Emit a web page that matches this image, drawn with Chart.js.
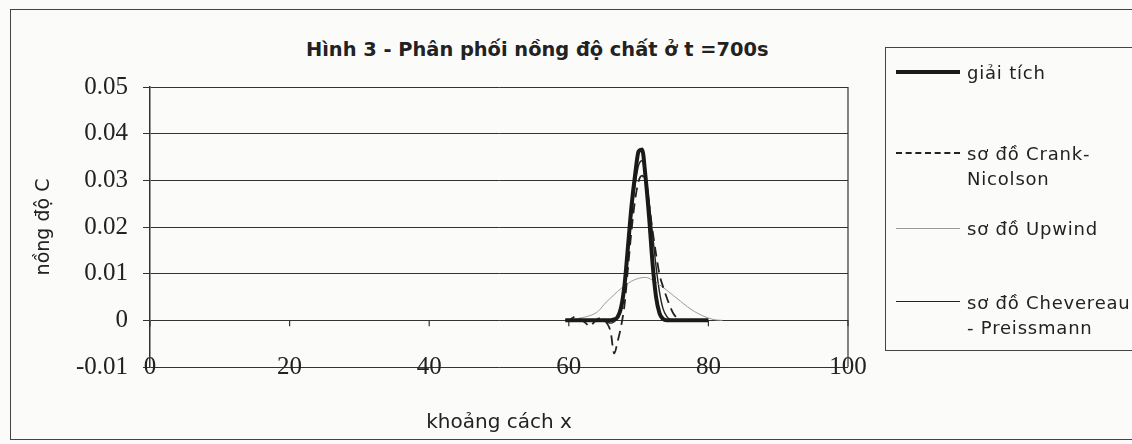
<!DOCTYPE html>
<html>
<head>
<meta charset="utf-8">
<script src="https://cdn.jsdelivr.net/npm/chart.js@4"></script>
<style>
  body { margin: 0; background: #fbfbfa; }
  #wrap { position: relative; width: 1132px; height: 444px; overflow: hidden; background: #fbfbfa; font-family: 'DejaVu Sans', sans-serif; color: #222; }
  #frame { position: absolute; left: 10px; top: 9px; width: 1150px; height: 429px; border: 1.5px solid #444; }
  #title { position: absolute; left: 306px; top: 38px; font-weight: bold; font-size: 19.4px; white-space: nowrap; }
  #legend { position: absolute; left: 885px; top: 47px; width: 300px; height: 302px; border: 1.2px solid #444; }
  .item { position: absolute; left: 10px; font-size: 18px; letter-spacing: 0.8px; white-space: nowrap; line-height: 25px; }
  .item .mark { position: absolute; left: 0; width: 64px; }
  .item .txt { position: absolute; left: 71px; top: 0; }
  canvas { position: absolute; left: 0; top: 0; }
</style>
</head>
<body>
<div id="wrap">
  <div id="frame"></div>
  <div id="title">Hình 3 - Phân phối nồng độ chất ở t =700s</div>
  <canvas id="chart" width="1132" height="444"></canvas>
  <div id="legend">
    <div class="item" style="top:12px"><div class="mark" style="top:10px;border-top:4px solid #1a1a1a"></div><div class="txt">giải tích</div></div>
    <div class="item" style="top:93px"><div class="mark" style="top:11px;border-top:2px dashed #222"></div><div class="txt">sơ đồ Crank-<br>Nicolson</div></div>
    <div class="item" style="top:168px"><div class="mark" style="top:12px;border-top:1px solid #999"></div><div class="txt">sơ đồ Upwind</div></div>
    <div class="item" style="top:242px"><div class="mark" style="top:11px;border-top:1.5px solid #222"></div><div class="txt">sơ đồ Chevereau<br>- Preissmann</div></div>
  </div>
</div>
<script>
// tick values on both axes
var xTicks = [0, 20, 40, 60, 80, 100];
var yTicks = [-0.01, 0, 0.01, 0.02, 0.03, 0.04, 0.05];

// giải tích (analytical)
var analyticX = [59.5, 66, 66.5, 67, 67.5, 68, 68.5, 69, 69.5, 70, 70.5, 71, 71.5, 72, 72.5, 73, 73.5, 74, 80];
var analyticY = [0, 0, 0.0002, 0.0007, 0.0028, 0.0078, 0.0162, 0.0247, 0.0312, 0.0362, 0.0366, 0.0306, 0.0222, 0.0122, 0.005, 0.0015, 0.0003, 0, 0];

// sơ đồ Crank-Nicolson
var cnX = [59.5, 60, 60.5, 61, 61.5, 62, 62.5, 63, 63.5, 64, 64.5, 65, 65.5, 66, 66.5, 67, 67.5, 68, 68.5, 69, 69.5, 70, 70.5, 71, 71.5, 72, 72.5, 73, 73.5, 74, 74.5, 75, 75.5, 76, 76.5, 80];
var cnY = [0, 0, 0.0005, 0.0008, 0.0004, -0.0001, -0.0007, -0.0013, -0.0006, 0.0002, 0.0004, 0.0002, -0.0007, -0.0025, -0.0071, -0.0045, -0.0012, 0.0035, 0.0115, 0.0195, 0.0258, 0.0298, 0.031, 0.0292, 0.0248, 0.0192, 0.0142, 0.0098, 0.0072, 0.005, 0.003, 0.0014, 0.0005, 0.0001, 0, 0];

// sơ đồ Upwind
var upX = [59.5, 60, 61, 62, 63, 64, 64.5, 65, 65.5, 66, 67, 68, 69, 70, 71, 72, 73, 74, 75, 76, 77, 78, 79, 80, 81, 82];
var upY = [0, 0, 0.0003, 0.0006, 0.001, 0.0017, 0.0024, 0.0033, 0.0041, 0.0048, 0.0062, 0.0074, 0.0084, 0.009, 0.0092, 0.0086, 0.0076, 0.0065, 0.0053, 0.0041, 0.0029, 0.0019, 0.0011, 0.0005, 0.0001, 0];

// sơ đồ Chevereau - Preissmann
var chX = [59.5, 64, 65, 65.5, 66, 66.5, 67, 67.5, 68, 68.5, 69, 69.5, 70, 70.5, 71, 71.5, 72, 72.5, 73, 73.5, 74, 74.5, 75, 80];
var chY = [0, 0, 0.0002, -0.0003, -0.0006, -0.0003, 0.0005, 0.0026, 0.0072, 0.0148, 0.0228, 0.029, 0.0332, 0.0342, 0.0312, 0.0255, 0.0185, 0.0115, 0.006, 0.0025, 0.0009, 0.0002, 0, 0];

function pts(xs, ys) {
    return xs.map((x, i) => ({ x: x, y: ys[i] }));
}

// short tick marks on the zero line and the right edge of the plot area
var zeroTicks = {
    id: 'zeroTicks',
    beforeDatasetsDraw(chart) {
        var ctx = chart.ctx, area = chart.chartArea;
        var sx = chart.scales.x, sy = chart.scales.y;
        var y0 = sy.getPixelForValue(0);
        ctx.save();
        ctx.strokeStyle = '#333';
        ctx.lineWidth = 1.2;
        xTicks.forEach(v => {
            var px = sx.getPixelForValue(v);
            ctx.beginPath();
            ctx.moveTo(px, y0);
            ctx.lineTo(px, y0 + 6);
            ctx.stroke();
        });
        ctx.beginPath();
        ctx.moveTo(area.right, area.top);
        ctx.lineTo(area.right, area.bottom);
        ctx.stroke();
        ctx.restore();
    }
};

var common = { pointRadius: 0, fill: false, cubicInterpolationMode: 'monotone' };

new Chart(document.getElementById('chart'), {
    type: 'line',
    data: {
        datasets: [
            Object.assign({ label: 'giải tích', data: pts(analyticX, analyticY), borderColor: '#1a1a1a', borderWidth: 4 }, common),
            Object.assign({ label: 'sơ đồ Crank-Nicolson', data: pts(cnX, cnY), borderColor: '#222', borderWidth: 1.8, borderDash: [10, 6] }, common),
            Object.assign({ label: 'sơ đồ Upwind', data: pts(upX, upY), borderColor: '#999', borderWidth: 1 }, common),
            Object.assign({ label: 'sơ đồ Chevereau - Preissmann', data: pts(chX, chY), borderColor: '#222', borderWidth: 1.4 }, common)
        ]
    },
    options: {
        responsive: false,
        animation: false,
        layout: { padding: { left: 10, right: 284, top: 87, bottom: 4 } },
        plugins: { legend: { display: false }, tooltip: { enabled: false } },
        scales: {
            x: {
                type: 'linear', min: 0, max: 100,
                afterBuildTicks: s => { s.ticks = xTicks.map(v => ({ value: v })); },
                afterFit: s => { s.height = 73; },
                grid: { display: false, drawTicks: false },
                border: { display: false },
                // mirrored so the labels sit on the bottom line without being clipped
                ticks: { mirror: true, padding: -15, autoSkip: false, maxRotation: 0, color: '#222', font: { family: 'Liberation Serif', size: 25 } },
                title: { display: true, text: 'khoảng cách x', color: '#222', font: { family: 'DejaVu Sans', size: 20 }, padding: { bottom: 5 } }
            },
            y: {
                min: -0.01, max: 0.05,
                afterBuildTicks: s => { s.ticks = yTicks.map(v => ({ value: v })); },
                afterFit: s => { s.width = 140; },
                grid: { color: '#333', lineWidth: 1, tickLength: 7 },
                border: { display: true, color: '#333', width: 1.5 },
                ticks: { padding: 15, color: '#222', font: { family: 'Liberation Serif', size: 25 } },
                title: { display: true, text: 'nồng độ C', color: '#222', font: { family: 'DejaVu Sans', size: 19 }, padding: { top: 23 } }
            }
        }
    },
    plugins: [zeroTicks]
});
</script>
</body>
</html>
